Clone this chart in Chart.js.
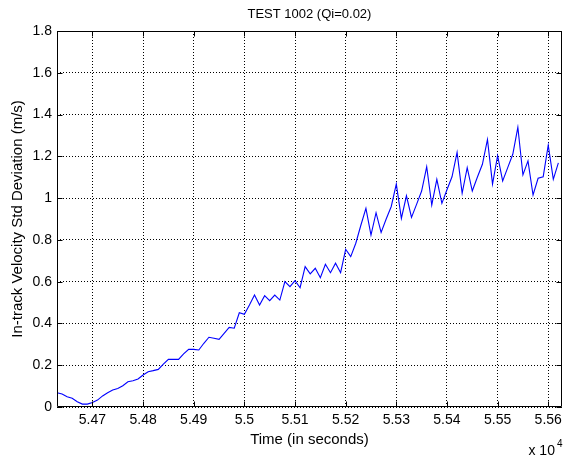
<!DOCTYPE html>
<html>
<head>
<meta charset="utf-8">
<script src="https://cdn.jsdelivr.net/npm/chart.js@4.4.1/dist/chart.umd.min.js"></script>
<style>
  html, body { margin: 0; padding: 0; background: #fff; }
  #wrap { width: 567px; height: 460px; }
</style>
</head>
<body>
<div id="wrap"><canvas id="c" width="567" height="460"></canvas></div>
<script>
// ---- data ----
const chartTitle = 'TEST 1002 (Qi=0.02)';
const xLabel = 'Time (in seconds)';
const yLabel = 'In-track Velocity Std Deviation (m/s)';

const times = [
  54630, 54640, 54650, 54660, 54670, 54680, 54690, 54700, 54710, 54720,
  54730, 54740, 54750, 54760, 54770, 54780, 54790, 54800, 54810, 54820,
  54830, 54840, 54850, 54860, 54870, 54880, 54890, 54900, 54910, 54920,
  54930, 54940, 54950, 54960, 54970, 54980, 54990, 55000, 55010, 55020,
  55030, 55040, 55050, 55060, 55070, 55080, 55090, 55100, 55110, 55120,
  55130, 55140, 55150, 55160, 55170, 55180, 55190, 55200, 55210, 55220,
  55230, 55240, 55250, 55260, 55270, 55280, 55290, 55300, 55310, 55320,
  55330, 55340, 55350, 55360, 55370, 55380, 55390, 55400, 55410, 55420,
  55430, 55440, 55450, 55460, 55470, 55480, 55490, 55500, 55510, 55520,
  55530, 55540, 55550, 55560, 55570, 55580, 55590, 55600, 55610, 55620
];

const stdDev = [
  0.068, 0.062, 0.049, 0.042, 0.025, 0.014, 0.014, 0.022, 0.033, 0.053,
  0.068, 0.081, 0.089, 0.102, 0.121, 0.126, 0.134, 0.153, 0.169, 0.174,
  0.180, 0.205, 0.228, 0.228, 0.228, 0.254, 0.276, 0.276, 0.273, 0.305,
  0.334, 0.329, 0.324, 0.352, 0.381, 0.377, 0.451, 0.444, 0.488, 0.536,
  0.488, 0.533, 0.509, 0.536, 0.512, 0.600, 0.576, 0.605, 0.571, 0.672,
  0.637, 0.664, 0.619, 0.683, 0.643, 0.688, 0.643, 0.755, 0.720, 0.784,
  0.870, 0.951, 0.823, 0.930, 0.836, 0.900, 0.960, 1.067, 0.903, 1.011,
  0.908, 0.970, 1.034, 1.150, 0.967, 1.090, 0.975, 1.040, 1.102, 1.219,
  1.023, 1.146, 1.034, 1.100, 1.162, 1.281, 1.067, 1.203, 1.082, 1.146,
  1.210, 1.339, 1.111, 1.178, 1.015, 1.095, 1.102, 1.254, 1.090, 1.169
];

const xTicks = [54700, 54800, 54900, 55000, 55100, 55200, 55300, 55400, 55500, 55600];
const yTicks = [0, 0.2, 0.4, 0.6, 0.8, 1, 1.2, 1.4, 1.6, 1.8];
const xRange = [54630, 55627];
const yRange = [0, 1.8];
const xExponentBase = 'x 10';
const xExponent = '4';
const xScaleDivisor = 10000;

// ---- styling ----
const FONT = '"Liberation Sans", Arial, Helvetica, sans-serif';

const matlabFrame = {
  id: 'matlabFrame',
  afterDatasetsDraw(chart) {
    const { ctx, chartArea: a, scales } = chart;
    const sx = scales.x, sy = scales.y;
    const L = Math.round(a.left) + 0.5, R = Math.round(a.right) - 0.5;
    const T = Math.round(a.top) + 0.5, B = Math.round(a.bottom) - 0.5;
    ctx.save();
    ctx.setLineDash([]);
    ctx.strokeStyle = '#000';
    ctx.lineWidth = 1;
    ctx.beginPath();
    ctx.rect(L, T, R - L, B - T);
    const tl = 5;
    sx.ticks.forEach(t => {
      const p = Math.round(sx.getPixelForValue(t.value)) + 0.5;
      ctx.moveTo(p, B); ctx.lineTo(p, B - tl);
      ctx.moveTo(p, T); ctx.lineTo(p, T + tl);
    });
    sy.ticks.forEach(t => {
      const p = Math.round(sy.getPixelForValue(t.value)) + 0.5;
      ctx.moveTo(L, p); ctx.lineTo(L + tl, p);
      ctx.moveTo(R, p); ctx.lineTo(R - tl, p);
    });
    ctx.stroke();
    // exponent label of the x axis
    ctx.fillStyle = '#000';
    ctx.textBaseline = 'alphabetic';
    ctx.textAlign = 'right';
    ctx.font = '14px ' + FONT;
    ctx.fillText(xExponentBase, a.right - 7, a.bottom + 48);
    ctx.font = '10px ' + FONT;
    ctx.textAlign = 'left';
    ctx.fillText(xExponent, a.right - 5, a.bottom + 40);
    ctx.restore();
  }
};

const ctx = document.getElementById('c').getContext('2d');
new Chart(ctx, {
  type: 'line',
  data: {
    datasets: [{
      data: times.map((t, i) => ({ x: t, y: stdDev[i] })),
      borderColor: 'rgb(0,0,255)',
      borderWidth: 1.1,
      pointRadius: 0,
      tension: 0,
      fill: false
    }]
  },
  options: {
    responsive: false,
    animation: false,
    devicePixelRatio: 1,
    layout: { padding: { left: 0, right: 2, top: 0, bottom: 0 } },
    plugins: {
      legend: { display: false },
      tooltip: { enabled: false },
      title: {
        display: true,
        text: chartTitle,
        fullSize: false,
        color: '#000',
        font: { family: FONT, size: 13, weight: 'normal', lineHeight: 1.2 },
        padding: { top: 6.2, bottom: 9.2 }
      }
    },
    scales: {
      x: {
        type: 'linear',
        min: xRange[0],
        max: xRange[1],
        afterBuildTicks: s => { s.ticks = xTicks.map(v => ({ value: v })); },
        afterFit: s => { s.height = 53; },
        grid: { display: true, color: '#000', lineWidth: 1, drawTicks: false },
        border: { display: false, dash: [1, 2] },
        ticks: {
          color: '#000',
          font: { family: FONT, size: 14 },
          padding: 5,
          maxRotation: 0,
          callback: v => String(Math.round(v / xScaleDivisor * 1000) / 1000)
        },
        title: {
          display: true,
          text: xLabel,
          color: '#000',
          font: { family: FONT, size: 15, lineHeight: 1.2 },
          padding: { top: 0, bottom: 11 }
        }
      },
      y: {
        type: 'linear',
        min: yRange[0],
        max: yRange[1],
        afterBuildTicks: s => { s.ticks = yTicks.map(v => ({ value: v })); },
        afterFit: s => { s.width = 57; },
        grid: { display: true, color: '#000', lineWidth: 1, drawTicks: false },
        border: { display: false, dash: [1, 2] },
        ticks: {
          color: '#000',
          font: { family: FONT, size: 14 },
          padding: 5,
          callback: v => String(Math.round(v * 10) / 10)
        },
        title: {
          display: true,
          text: yLabel,
          color: '#000',
          font: { family: FONT, size: 15, lineHeight: 1.2 },
          padding: { top: 8.5, bottom: 0 }
        }
      }
    }
  },
  plugins: [matlabFrame]
});
</script>
</body>
</html>
